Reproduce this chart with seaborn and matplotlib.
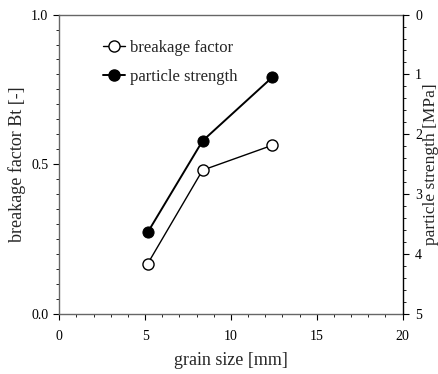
import numpy as np
import pandas as pd
import matplotlib
matplotlib.use("Agg")
import matplotlib.pyplot as plt
from matplotlib.ticker import MultipleLocator, FormatStrFormatter
from matplotlib.lines import Line2D
import seaborn as sns

# grain size [mm]
grain_size = [5.15, 8.35, 12.4]
# breakage factor Bt [-]
breakage_factor = [0.167, 0.48, 0.563]
# particle strength [MPa]
particle_strength = [3.64, 2.11, 1.05]

sns.set_theme(style="white")
plt.rcParams["font.family"] = ["Liberation Serif", "DejaVu Serif"]

df = pd.DataFrame({"grain": grain_size, "bt": breakage_factor, "ps": particle_strength})

fig = plt.figure(figsize=(4.39, 3.74), dpi=100)
ax = fig.add_axes([0.135, 0.161, 0.782, 0.800])
ax2 = ax.twinx()

sns.lineplot(data=df, x="grain", y="bt", ax=ax, color="black", lw=1.0,
             marker="o", markersize=8, markerfacecolor="white",
             markeredgecolor="black", markeredgewidth=1.0)
sns.lineplot(data=df, x="grain", y="ps", ax=ax2, color="black", lw=1.4,
             marker="o", markersize=8, markerfacecolor="black",
             markeredgecolor="black")

ax.set_xlim(0, 20)
ax.set_ylim(0, 1.0)
ax2.set_ylim(5, 0)

ax.xaxis.set_major_locator(MultipleLocator(5))
ax.xaxis.set_minor_locator(MultipleLocator(1))
ax.yaxis.set_major_locator(MultipleLocator(0.5))
ax.yaxis.set_minor_locator(MultipleLocator(0.05))
ax2.yaxis.set_major_locator(MultipleLocator(1))
ax2.yaxis.set_minor_locator(MultipleLocator(0.2))
ax.yaxis.set_major_formatter(FormatStrFormatter("%.1f"))

for a in (ax, ax2):
    a.tick_params(which="major", direction="out", length=4, width=0.8,
                  colors="black", labelsize=10, pad=4)
    a.tick_params(which="minor", direction="out", length=2.5, width=0.6,
                  colors="black")
ax.tick_params(axis="x", which="both", bottom=True)
ax.tick_params(axis="x", which="major", pad=8)
ax.tick_params(axis="y", which="both", left=True)
ax2.tick_params(axis="y", which="both", right=True, left=False)
ax2.tick_params(axis="y", which="major", pad=5)

for s in ("left", "top", "bottom"):
    ax.spines[s].set_color("#666666")
    ax.spines[s].set_linewidth(1.0)
    ax2.spines[s].set_visible(False)
ax.spines["right"].set_visible(False)
ax2.spines["right"].set_color("black")
ax2.spines["right"].set_linewidth(1.0)

ax.set_xlabel("grain size [mm]", fontsize=13)
ax.set_ylabel("breakage factor Bt [-]", fontsize=13)
ax2.set_ylabel("particle strength [MPa]", fontsize=12.5)
ax.xaxis.set_label_coords(0.5, -0.128)
ax.yaxis.set_label_coords(-0.097, 0.5)
ax2.yaxis.set_label_coords(1.060, 0.5)
ax.grid(False)
ax2.grid(False)

handles = [
    Line2D([], [], color="black", lw=1.0, marker="o", markersize=8,
           markerfacecolor="white", markeredgecolor="black"),
    Line2D([], [], color="black", lw=1.4, marker="o", markersize=8,
           markerfacecolor="black", markeredgecolor="black"),
]
ax.legend(handles, ["breakage factor", "particle strength"], loc="upper left",
          bbox_to_anchor=(0.085, 0.965), frameon=False, fontsize=12,
          handlelength=1.3, handletextpad=0.3, labelspacing=0.75)

fig.savefig("out.png", dpi=100)
